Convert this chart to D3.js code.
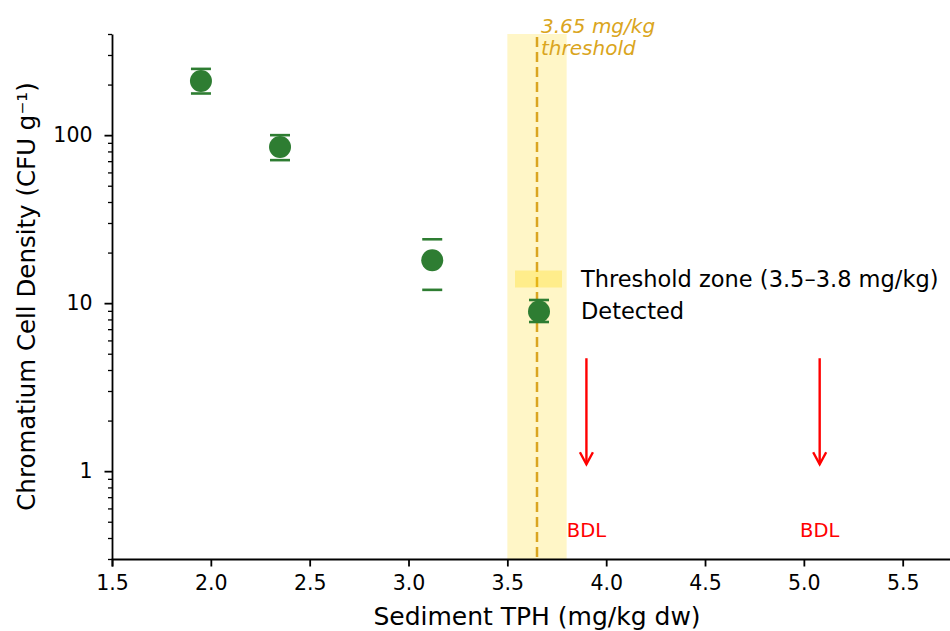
<!DOCTYPE html>
<html>
<head>
<meta charset="utf-8">
<script src="https://cdn.jsdelivr.net/npm/d3@7"></script>
<style>
  body { margin: 0; background: #fff; overflow: hidden; }
  svg { font-family: 'DejaVu Sans', sans-serif; display: block; }
</style>
</head>
<body>
<script>
// data
var tph = [1.95, 2.35, 3.12]
var density = [210, 85, 18]
var errLow = [177, 71, 12]
var errHigh = [248, 100, 24]
var bdlTph = [3.9, 5.08]
var arrowFrom = 4.7, arrowTo = 1.1
var zone = [3.5, 3.8], threshold = 3.65
var xTicks = [1.5, 2.0, 2.5, 3.0, 3.5, 4.0, 4.5, 5.0, 5.5]
var yTicks = [1, 10, 100]

var W = 950, H = 631
// axes box runs a bit past the right edge of the picture
var mLeft = 112, mRight = 962, mTop = 34, mBottom = 559
var green = '#2e7d32', gold = '#daa520'

var svg = d3.select('body').append('svg')
	.attr('width', W)
	.attr('height', H)

// scales
var x = d3.scaleLinear().domain([1.5, 5.8]).range([mLeft, mRight])
var y = d3.scaleLog().domain([0.3, 400]).range([mBottom, mTop])

// threshold zone + line
svg.append('rect')
	.attr('x', x(zone[0]))
	.attr('y', mTop)
	.attr('width', x(zone[1]) - x(zone[0]))
	.attr('height', mBottom - mTop)
	.attr('fill', '#ffd700')
	.attr('fill-opacity', 0.22)
svg.append('line')
	.attr('x1', x(threshold)).attr('x2', x(threshold))
	.attr('y1', mTop + 3).attr('y2', mBottom)
	.attr('stroke', gold)
	.attr('stroke-width', 2.5)
	.attr('stroke-dasharray', '10,5')
svg.append('text')
	.attr('fill', gold)
	.style('font-size', '20px')
	.style('font-style', 'italic')
	.selectAll('tspan')
	.data(['3.65 mg/kg', 'threshold'])
	.enter().append('tspan')
	.attr('x', x(threshold) + 4)
	.attr('y', function (d, i) { return i ? 55 : 33 })
	.text(function (d) { return d })

// error caps (no stems visible)
var capW = 10
var caps = svg.append('g').attr('stroke', green).attr('stroke-width', 2.6)
tph.forEach(function (t, i) {
	;[errLow[i], errHigh[i]].forEach(function (v) {
		caps.append('line')
			.attr('x1', x(t) - capW).attr('x2', x(t) + capW)
			.attr('y1', y(v)).attr('y2', y(v))
	})
})
svg.selectAll('circle.pt')
	.data(tph)
	.enter()
	.append('circle')
	.attr('class', 'pt')
	.attr('cx', function (d) { return x(d) })
	.attr('cy', function (d, i) { return y(density[i]) })
	.attr('r', 11)
	.attr('fill', green)

// BDL arrows
var red = '#ff0000'
bdlTph.forEach(function (t) {
	var cx = x(t), y1 = y(arrowFrom), y2 = y(arrowTo)
	svg.append('line')
		.attr('x1', cx).attr('x2', cx)
		.attr('y1', y1).attr('y2', y2)
		.attr('stroke', red).attr('stroke-width', 2.4)
	svg.append('path')
		.attr('d', 'M' + (cx - 6.5) + ',' + (y2 - 12) + 'L' + cx + ',' + y2 + 'L' + (cx + 6.5) + ',' + (y2 - 12))
		.attr('fill', 'none')
		.attr('stroke', red).attr('stroke-width', 2.4)
	svg.append('text')
		.attr('x', cx)
		.attr('y', 537)
		.attr('text-anchor', 'middle')
		.attr('fill', red)
		.style('font-size', '19.5px')
		.text('BDL')
})

function styleAxis(g) {
	g.attr('font-family', null).attr('font-size', 20.5)
	g.selectAll('text').attr('fill', '#000').style('font-size', '20.5px')
	g.selectAll('line, path').attr('stroke', '#000').attr('stroke-width', 1.8)
}

// axes
var xAxis = d3.axisBottom(x)
	.tickValues(xTicks)
	.tickFormat(d3.format('.1f'))
	.tickSizeOuter(0)
	.tickSize(7.5)
	.tickPadding(8.5)
svg.append('g')
	.attr('transform', 'translate(0,' + mBottom + ')')
	.call(xAxis)
	.call(styleAxis)

var minor = []
;[0.1, 1, 10, 100].forEach(function (b) {
	for (var k = 2; k <= 9; k++) {
		var v = b * k
		if (v >= 0.3 && v <= 400) minor.push(v)
	}
})
svg.append('g')
	.attr('transform', 'translate(' + mLeft + ',0)')
	.call(d3.axisLeft(y).tickValues(minor).tickFormat('').tickSize(4).tickSizeOuter(0))
	.call(function (g) { g.select('.domain').remove() })
	.selectAll('line').attr('stroke', '#000').attr('stroke-width', 1.3)

svg.append('g')
	.attr('transform', 'translate(' + mLeft + ',0)')
	.call(d3.axisLeft(y).tickValues(yTicks).tickFormat(d3.format('d')).tickSize(7.5).tickSizeOuter(0).tickPadding(12))
	.call(styleAxis)

// axis labels
svg.append('text')
	.attr('x', (mLeft + mRight) / 2)
	.attr('y', 625)
	.attr('text-anchor', 'middle')
	.style('font-size', '25px')
	.text('Sediment TPH (mg/kg dw)')
svg.append('text')
	.attr('transform', 'translate(35,' + ((mTop + mBottom) / 2) + ') rotate(-90)')
	.attr('text-anchor', 'middle')
	.style('font-size', '24.5px')
	.text('Chromatium Cell Density (CFU g\u207B\u00B9)')

// legend
var lg = svg.append('g')
lg.append('rect')
	.attr('x', 515).attr('y', 270.5)
	.attr('width', 47).attr('height', 17)
	.attr('fill', '#ffd700').attr('fill-opacity', 0.3)
lg.append('text')
	.attr('x', 581).attr('y', 287)
	.style('font-size', '22.5px')
	.text('Threshold zone (3.5\u20133.8 mg/kg)')
var hx = 539, hy = 311.5
lg.append('line').attr('x1', hx - capW).attr('x2', hx + capW).attr('y1', hy - 11.5).attr('y2', hy - 11.5)
	.attr('stroke', green).attr('stroke-width', 2.6)
lg.append('line').attr('x1', hx - capW).attr('x2', hx + capW).attr('y1', hy + 10.5).attr('y2', hy + 10.5)
	.attr('stroke', green).attr('stroke-width', 2.6)
lg.append('circle').attr('cx', hx).attr('cy', hy).attr('r', 11).attr('fill', green)
lg.append('text')
	.attr('x', 581).attr('y', 318.5)
	.style('font-size', '22.5px')
	.text('Detected')
</script>
</body>
</html>
